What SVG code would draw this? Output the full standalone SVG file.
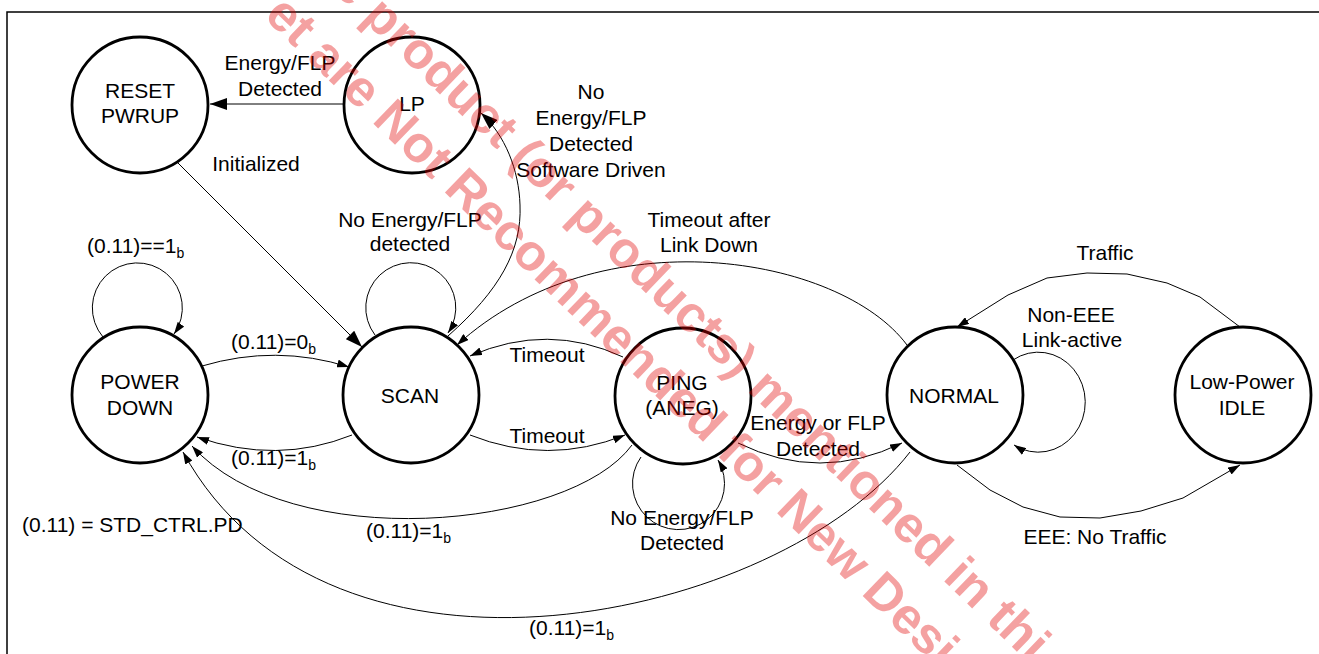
<svg xmlns="http://www.w3.org/2000/svg" width="1319" height="654" viewBox="0 0 1319 654">
<defs>
<style>
text{font-family:"Liberation Sans",Arial,sans-serif;font-size:21px;fill:#000}
.m{text-anchor:middle}
.node{fill:#fff;stroke:#000;stroke-width:2.8}
.edge{fill:none;stroke:#000;stroke-width:1}
.sub{font-size:14px}
.wm{font-family:"Liberation Sans",Arial,sans-serif;font-weight:bold;font-size:51px;fill:#e10000;fill-opacity:0.37}
</style>
<marker id="a" viewBox="0 0 12 8" refX="12" refY="4" markerWidth="12" markerHeight="8" orient="auto" markerUnits="userSpaceOnUse"><path d="M0,0L12,4L0,8z" fill="#000"/></marker>
<marker id="A" viewBox="0 0 17 12" refX="17" refY="6" markerWidth="17" markerHeight="12" orient="auto" markerUnits="userSpaceOnUse"><path d="M0,0L17,6L0,12z" fill="#000"/></marker>
</defs>
<rect width="1319" height="654" fill="#fff"/>
<path d="M7,654V12H1319" fill="none" stroke="#000" stroke-width="1.5"/>
<g id="connectors">
<path class="edge" d="M343,104H210" marker-end="url(#A)"/>
<path class="edge" d="M178,163L362,347" marker-end="url(#A)"/>
<path class="edge" d="M448,336C500,290 522,250 520,205C519,170 505,135 481,113" marker-end="url(#A)"/>
<path class="edge" d="M375,335A45,45 0 1 1 448,333" marker-end="url(#a)"/>
<path class="edge" d="M103,337A45,45 0 1 1 174,334" marker-end="url(#a)"/>
<path class="edge" d="M907,345C840,255 600,215 457,345" marker-end="url(#a)"/>
<path class="edge" d="M202,366Q276,344 349,367" marker-end="url(#a)"/>
<path class="edge" d="M352,435Q277,465 197,437" marker-end="url(#a)"/>
<path class="edge" d="M623,357Q548,322 470,356" marker-end="url(#a)"/>
<path class="edge" d="M470,435Q548,466 625,435" marker-end="url(#a)"/>
<path class="edge" d="M632,445C570,530 290,555 192,446" marker-end="url(#a)"/>
<path class="edge" d="M910,452C780,620 330,720 183,452" marker-end="url(#a)"/>
<path class="edge" d="M641,457A46,46 0 1 0 718,460" marker-end="url(#a)"/>
<path class="edge" d="M738,443Q820,483 902,443" marker-end="url(#a)"/>
<path class="edge" d="M1013,360A47,50 0 1 1 1014,445" marker-end="url(#a)"/>
<polyline class="edge" points="1240,327 1200,297 1167,283 1127,274 1087,273 1047,278 1008,295 957,327" marker-end="url(#a)"/>
<polyline class="edge" points="957,465 990,490 1023,507 1060,517 1100,518 1141,511 1183,498 1240,465" marker-end="url(#a)"/>
</g>
<g id="labels">
<text class="m" x="280" y="70">Energy/FLP</text>
<text class="m" x="280" y="96">Detected</text>
<text class="m" x="256" y="171">Initialized</text>
<text class="m" x="591" y="99">No</text>
<text class="m" x="591" y="125">Energy/FLP</text>
<text class="m" x="591" y="151">Detected</text>
<text class="m" x="591" y="177">Software Driven</text>
<text class="m" x="410" y="227">No Energy/FLP</text>
<text class="m" x="410" y="251">detected</text>
<text x="87" y="253">(0.11)==1<tspan class="sub" dy="5">b</tspan></text>
<text class="m" x="709" y="227">Timeout after</text>
<text class="m" x="709" y="252">Link Down</text>
<text class="m" x="1105" y="260">Traffic</text>
<text class="m" x="1071" y="322">Non-EEE</text>
<text class="m" x="1072" y="347">Link-active</text>
<text x="231" y="349">(0.11)=0<tspan class="sub" dy="5">b</tspan></text>
<text x="231" y="465">(0.11)=1<tspan class="sub" dy="5">b</tspan></text>
<text class="m" x="547" y="362">Timeout</text>
<text class="m" x="547" y="443">Timeout</text>
<text class="m" x="818" y="430">Energy or FLP</text>
<text class="m" x="818" y="456">Detected</text>
<text x="22" y="532">(0.11) = STD_CTRL.PD</text>
<text x="366" y="538">(0.11)=1<tspan class="sub" dy="5">b</tspan></text>
<text x="529" y="635">(0.11)=1<tspan class="sub" dy="5">b</tspan></text>
<text class="m" x="682" y="525">No Energy/FLP</text>
<text class="m" x="682" y="550">Detected</text>
<text class="m" x="1095" y="544">EEE: No Traffic</text>
</g>
<g id="n-reset"><circle class="node" cx="140" cy="105" r="68"/><text class="m" x="140" y="98">RESET</text><text class="m" x="140" y="123">PWRUP</text></g>
<g id="n-lp"><circle class="node" cx="412" cy="105" r="68"/><text class="m" x="412" y="111">LP</text></g>
<g id="n-powerdown"><circle class="node" cx="140" cy="395" r="68"/><text class="m" x="140" y="389">POWER</text><text class="m" x="140" y="415">DOWN</text></g>
<g id="n-scan"><circle class="node" cx="411" cy="395" r="68"/><text class="m" x="410" y="403">SCAN</text></g>
<g id="n-ping"><circle class="node" cx="683" cy="396" r="68"/><text class="m" x="682" y="390">PING</text><text class="m" x="682" y="415">(ANEG)</text></g>
<g id="n-normal"><circle class="node" cx="955" cy="395" r="68"/><text class="m" x="954" y="403">NORMAL</text></g>
<g id="n-idle"><circle class="node" cx="1243" cy="395" r="68"/><text class="m" x="1242" y="389">Low-Power</text><text class="m" x="1242" y="415">IDLE</text></g>
<g id="watermark">
<text class="wm" transform="translate(263,17) rotate(44)">et are Not Recommended for New Desi</text>
<text class="wm" transform="translate(308,-33) rotate(44)">he product (or products) mentioned in thi</text>
</g>
</svg>
